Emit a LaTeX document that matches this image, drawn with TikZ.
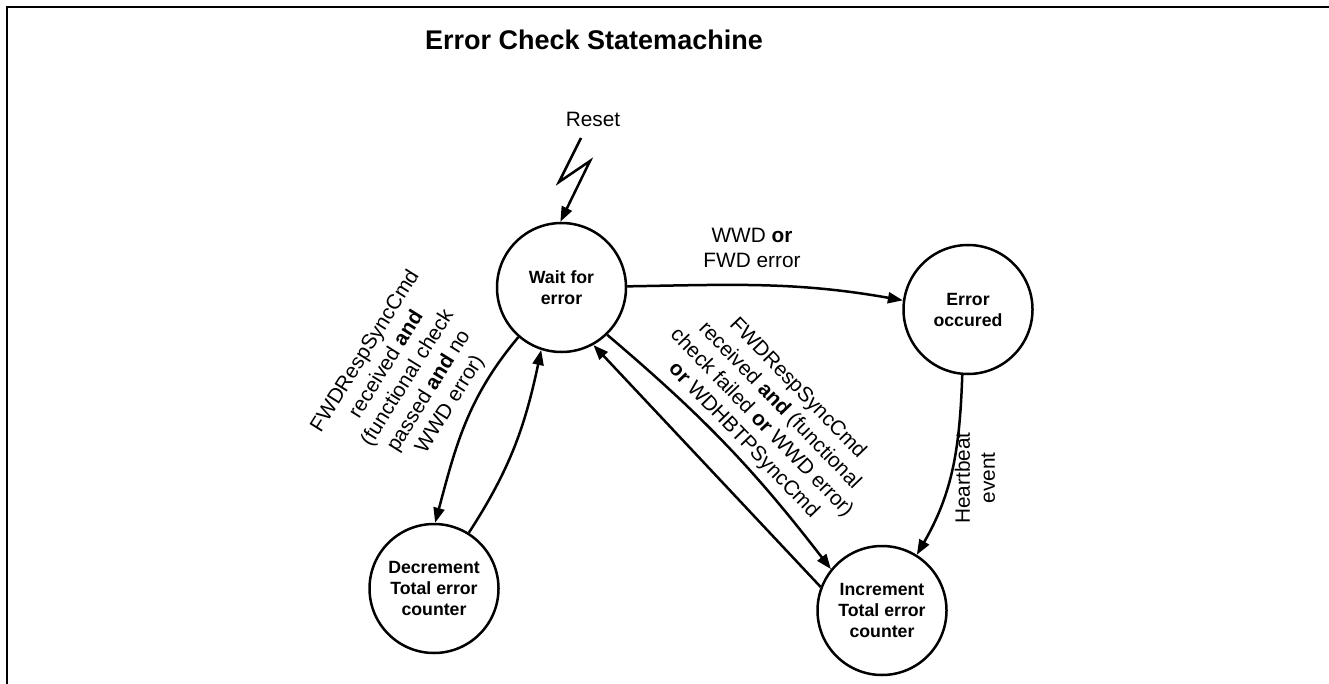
\documentclass[tikz,border=0pt]{standalone}
\usepackage{fontspec}
\setmainfont{Liberation Sans}
\usetikzlibrary{arrows.meta}
\tikzset{
  state/.style={draw, circle, line width=2.5pt, minimum size=129pt, inner sep=0pt, align=center,
    font=\bfseries\fontsize{17.7}{21}\selectfont},
  lbl/.style={align=center, inner sep=0pt, font=\fontsize{20.8}{25}\selectfont},
  edge/.style={line width=2.5pt, -{Triangle[length=15pt,width=11pt]}},
  frame/.style={line width=2pt},
}
\begin{document}
\begin{tikzpicture}[x=1pt,y=1pt]
\useasboundingbox (0,0) rectangle (1329,-684);
\draw[frame] (7,-684) -- (7,-7) -- (1329,-7);

\node[anchor=base west, inner sep=0pt, font=\bfseries\fontsize{27}{32}\selectfont] (title) at (425,-50) {Error Check Statemachine};

\node[state] (W) at (561.5,-287.5) {Wait for\\error};
\node[state] (E) at (968,-309.5) {Error\\occured};
\node[state] (D) at (434,-588.5) {Decrement\\Total error\\counter};
\node[state] (I) at (882,-610.5) {Increment\\Total error\\counter};

% reset
\node[lbl, anchor=base] (reset) at (593,-127) {Reset};
\coordinate (r0) at (581,-138);
\coordinate (r1) at (559,-182);
\coordinate (r2) at (590,-161);
\draw[edge, line join=miter] (r0) -- (r1) -- (r2) -- (W.91);

% transitions
\draw[edge] (W.1) to[out=1, in=170] (E.172);
\node[lbl] (l1) at (752,-248) {WWD \textbf{or}\\FWD error};

\draw[edge] (E.265) to[out=268, in=60] (I.58);
\node[lbl, rotate=90] (l2) at (975,-478) {Heartbeat\\event};

\draw[edge] (W.314) to[bend left=6] (I.141);
\draw[edge] (I.159) -- (W.299);
\node[lbl, rotate=-46] (l3) at (770.5,-414.5) {FWDRespSyncCmd\\received \textbf{and} (functional\\check failed \textbf{or} WWD error)\\\textbf{or} WDHBTPSyncCmd};

\draw[edge] (W.229) to[out=230, in=75] (D.89);
\draw[edge] (D.58) to[out=57, in=258] (W.252);
\node[lbl, rotate=58] (l4) at (408,-378) {FWDRespSyncCmd\\received \textbf{and}\\(functional check\\passed \textbf{and} no\\WWD error)};
\end{tikzpicture}
\end{document}
